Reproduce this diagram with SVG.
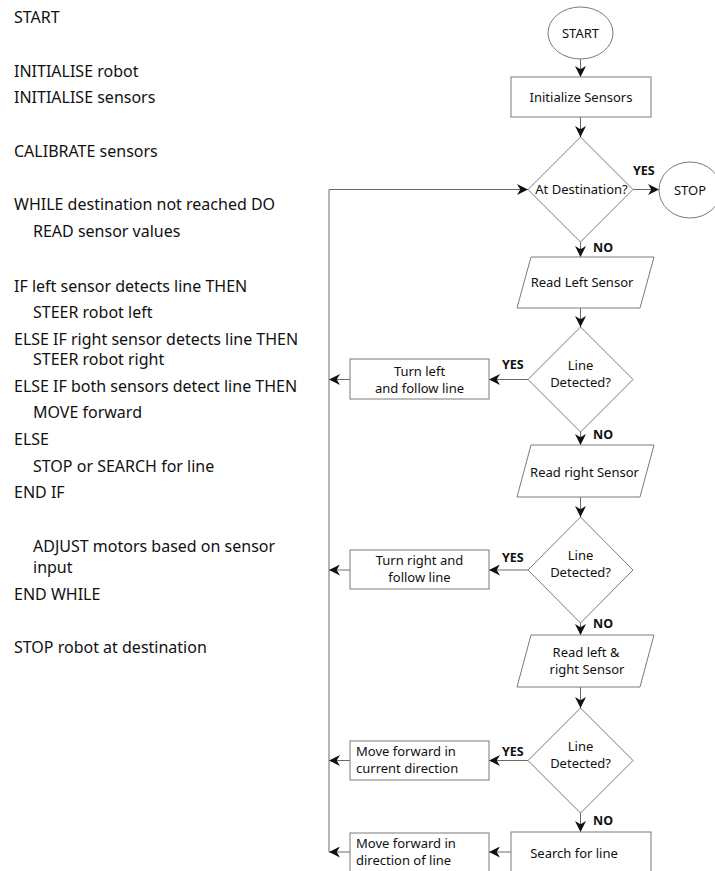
<svg xmlns="http://www.w3.org/2000/svg" width="715" height="871" viewBox="0 0 715 871">
<style>
.pc{font-family:"Noto Sans","Open Sans",sans-serif;font-size:16px;fill:#111}
.t{font-family:"Noto Sans","Open Sans",sans-serif;font-size:13px;fill:#111}
.c{text-anchor:middle}
.b{font-family:"Noto Sans","Open Sans",sans-serif;font-size:12.5px;font-weight:bold;fill:#111}
.s{fill:#fff;stroke:#7a7a7a;stroke-width:1}
.ln{fill:none;stroke:#6a6a6a;stroke-width:1;marker-end:url(#ah)}
</style>
<defs>
<marker id="ah" viewBox="0 0 10 10" refX="10" refY="5" markerWidth="11" markerHeight="11" orient="auto" markerUnits="userSpaceOnUse">
<path d="M0,0 L10,5 L0,10 L3,5 z" fill="#111"/>
</marker>
</defs>
<rect width="715" height="871" fill="#fff"/>
<g id="pseudocode">
<text class="pc" x="14" y="23">START</text>
<text class="pc" x="14" y="77">INITIALISE robot</text>
<text class="pc" x="14" y="103">INITIALISE sensors</text>
<text class="pc" x="14" y="157">CALIBRATE sensors</text>
<text class="pc" x="14" y="210">WHILE destination not reached DO</text>
<text class="pc" x="33" y="237">READ sensor values</text>
<text class="pc" x="14" y="292">IF left sensor detects line THEN</text>
<text class="pc" x="33" y="318">STEER robot left</text>
<text class="pc" x="14" y="345">ELSE IF right sensor detects line THEN</text>
<text class="pc" x="33" y="365">STEER robot right</text>
<text class="pc" x="14" y="392">ELSE IF both sensors detect line THEN</text>
<text class="pc" x="33" y="418">MOVE forward</text>
<text class="pc" x="14" y="445">ELSE</text>
<text class="pc" x="33" y="472">STOP or SEARCH for line</text>
<text class="pc" x="14" y="498">END IF</text>
<text class="pc" x="33" y="552">ADJUST motors based on sensor</text>
<text class="pc" x="33" y="573">input</text>
<text class="pc" x="14" y="600">END WHILE</text>
<text class="pc" x="14" y="653">STOP robot at destination</text>
</g>
<g id="connectors">
<line class="ln" x1="580.5" y1="59" x2="580.5" y2="77"/>
<line class="ln" x1="580.5" y1="117" x2="580.5" y2="137"/>
<line class="ln" x1="633" y1="189.5" x2="659" y2="189.5"/>
<line class="ln" x1="580.5" y1="242" x2="580.5" y2="257"/>
<line class="ln" x1="580.5" y1="308" x2="580.5" y2="327"/>
<line class="ln" x1="528" y1="379.5" x2="489" y2="379.5"/>
<line class="ln" x1="350" y1="379.5" x2="329" y2="379.5"/>
<line class="ln" x1="580.5" y1="432" x2="580.5" y2="445"/>
<line class="ln" x1="580.5" y1="497" x2="580.5" y2="517"/>
<line class="ln" x1="528" y1="570" x2="489" y2="570"/>
<line class="ln" x1="350" y1="570" x2="329" y2="570"/>
<line class="ln" x1="580.5" y1="623" x2="580.5" y2="635"/>
<line class="ln" x1="580.5" y1="687" x2="580.5" y2="708"/>
<line class="ln" x1="528" y1="760.5" x2="489" y2="760.5"/>
<line class="ln" x1="350" y1="760.5" x2="329" y2="760.5"/>
<line class="ln" x1="580.5" y1="813" x2="580.5" y2="832"/>
<line class="ln" x1="511" y1="852" x2="489" y2="852"/>
<line class="ln" x1="350" y1="852" x2="329" y2="852"/>
<polyline class="ln" points="329,852 329,189.5 528,189.5"/>
<text class="b" x="633" y="175">YES</text>
<text class="b" x="593" y="252">NO</text>
<text class="b" x="502" y="369">YES</text>
<text class="b" x="593" y="439">NO</text>
<text class="b" x="502" y="562">YES</text>
<text class="b" x="593" y="628">NO</text>
<text class="b" x="502" y="756">YES</text>
<text class="b" x="593" y="825">NO</text>
</g>
<g id="start">
<ellipse class="s" cx="580.5" cy="33" rx="32.5" ry="26"/>
<text class="t c" x="580.5" y="38">START</text>
</g>
<g id="init">
<rect class="s" x="511" y="77" width="140" height="40"/>
<text class="t c" x="581" y="102">Initialize Sensors</text>
</g>
<g id="atDest">
<polygon class="s" points="580.5,137 633,189.5 580.5,242 528,189.5"/>
<text class="t c" x="581.5" y="194">At Destination?</text>
</g>
<g id="stop">
<ellipse class="s" cx="690" cy="190" rx="31" ry="28"/>
<text class="t c" x="690" y="195">STOP</text>
</g>
<g id="readLeft">
<polygon class="s" points="531,257 654,257 640,308 517,308"/>
<text class="t c" x="582" y="287">Read Left Sensor</text>
</g>
<g id="detect1">
<polygon class="s" points="580.5,327 633,379.5 580.5,432 528,379.5"/>
<text class="t c" x="580.5" y="370">Line</text>
<text class="t c" x="580.5" y="387">Detected?</text>
</g>
<g id="turnLeft">
<rect class="s" x="350" y="359" width="139" height="40"/>
<text class="t c" x="419.5" y="375.5">Turn left</text>
<text class="t c" x="419.5" y="392.5">and follow line</text>
</g>
<g id="readRight">
<polygon class="s" points="531,445 654,445 640,497 517,497"/>
<text class="t c" x="584.5" y="477">Read right Sensor</text>
</g>
<g id="detect2">
<polygon class="s" points="580.5,517 633,570 580.5,623 528,570"/>
<text class="t c" x="580.5" y="560">Line</text>
<text class="t c" x="580.5" y="577">Detected?</text>
</g>
<g id="turnRight">
<rect class="s" x="350" y="550" width="139" height="39"/>
<text class="t c" x="419.5" y="565">Turn right and</text>
<text class="t c" x="419.5" y="582">follow line</text>
</g>
<g id="readBoth">
<polygon class="s" points="531,635 654,635 640,687 517,687"/>
<text class="t c" x="586" y="656.5">Read left &amp;</text>
<text class="t c" x="587" y="673.5">right Sensor</text>
</g>
<g id="detect3">
<polygon class="s" points="580.5,708 633,760.5 580.5,813 528,760.5"/>
<text class="t c" x="580.5" y="750.5">Line</text>
<text class="t c" x="580.5" y="767.5">Detected?</text>
</g>
<g id="moveCurrent">
<rect class="s" x="350" y="741" width="139" height="39"/>
<text class="t" x="356" y="756">Move forward in</text>
<text class="t" x="356" y="773">current direction</text>
</g>
<g id="search">
<rect class="s" x="511" y="832" width="140" height="44"/>
<text class="t c" x="574" y="858">Search for line</text>
</g>
<g id="moveLine">
<rect class="s" x="350" y="833" width="139" height="44"/>
<text class="t" x="356" y="848">Move forward in</text>
<text class="t" x="356" y="865">direction of line</text>
</g>
</svg>
